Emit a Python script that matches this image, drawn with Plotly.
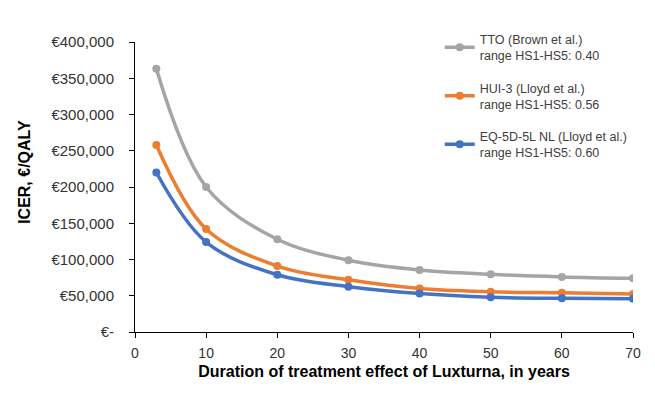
import plotly.graph_objects as go

years = [3, 10, 20, 30, 40, 50, 60, 70]
tto = [363000, 200000, 128000, 99000, 85500, 79500, 76000, 74000]
hui3 = [258000, 142000, 91000, 72000, 60000, 55500, 54000, 52500]
eq5d = [220000, 124000, 79000, 62500, 53000, 48000, 46500, 46000]

series_names = [
    "TTO (Brown et al.)<br>range HS1-HS5: 0.40",
    "HUI-3 (Lloyd et al.)<br>range HS1-HS5: 0.56",
    "EQ-5D-5L NL (Lloyd et al.)<br>range HS1-HS5: 0.60",
]
colors = ["#A5A5A5", "#ED7D31", "#4472C4"]

y_tickvals = [0, 50000, 100000, 150000, 200000, 250000, 300000, 350000, 400000]
y_ticktext = ["€-", "€50,000", "€100,000", "€150,000", "€200,000",
              "€250,000", "€300,000", "€350,000", "€400,000"]
x_tickvals = [0, 10, 20, 30, 40, 50, 60, 70]

fig = go.Figure()
for i, (name, vals, c) in enumerate(zip(series_names, [tto, hui3, eq5d], colors)):
    fig.add_trace(go.Scatter(
        x=years, y=vals, name=name, mode="lines+markers", legendgroup=f"g{i}",
        line=dict(color=c, width=3.5, shape="spline", smoothing=1.0),
        marker=dict(color=c, size=8),
    ))

fig.update_layout(
    width=655, height=396,
    margin=dict(l=127, r=30, t=34, b=72),
    paper_bgcolor="white", plot_bgcolor="white",
    font=dict(family="Liberation Sans, Arial, sans-serif", size=14, color="#333333"),
    showlegend=True,
    legend=dict(x=0.612, y=1.06, xanchor="left", yanchor="top",
                bgcolor="rgba(0,0,0,0)", font=dict(size=12.5, color="#404040"),
                tracegroupgap=13, itemwidth=30),
    annotations=[dict(
        text="<b>ICER, €/QALY</b>", xref="paper", yref="paper",
        x=-0.221, y=0.552, xanchor="center", yanchor="middle",
        textangle=-90, showarrow=False, font=dict(size=16, color="black"),
    )],
)
fig.update_xaxes(
    range=[0, 70], tickvals=x_tickvals, showgrid=False, zeroline=False,
    showline=True, linecolor="black", linewidth=1,
    ticks="outside", ticklen=5, tickcolor="black", ticklabelstandoff=3,
    tickfont=dict(size=14, color="#333333"),
    title=dict(text="<b>Duration of treatment effect of Luxturna, in years</b>",
               font=dict(size=16, color="black"), standoff=6),
)
fig.update_yaxes(
    range=[0, 400000], tickvals=y_tickvals, ticktext=y_ticktext,
    showgrid=False, zeroline=False,
    showline=True, linecolor="black", linewidth=1,
    ticks="outside", ticklen=5, tickcolor="black", ticklabelstandoff=12,
    tickfont=dict(size=15, color="#333333"),
)

fig.write_html("out.html")
